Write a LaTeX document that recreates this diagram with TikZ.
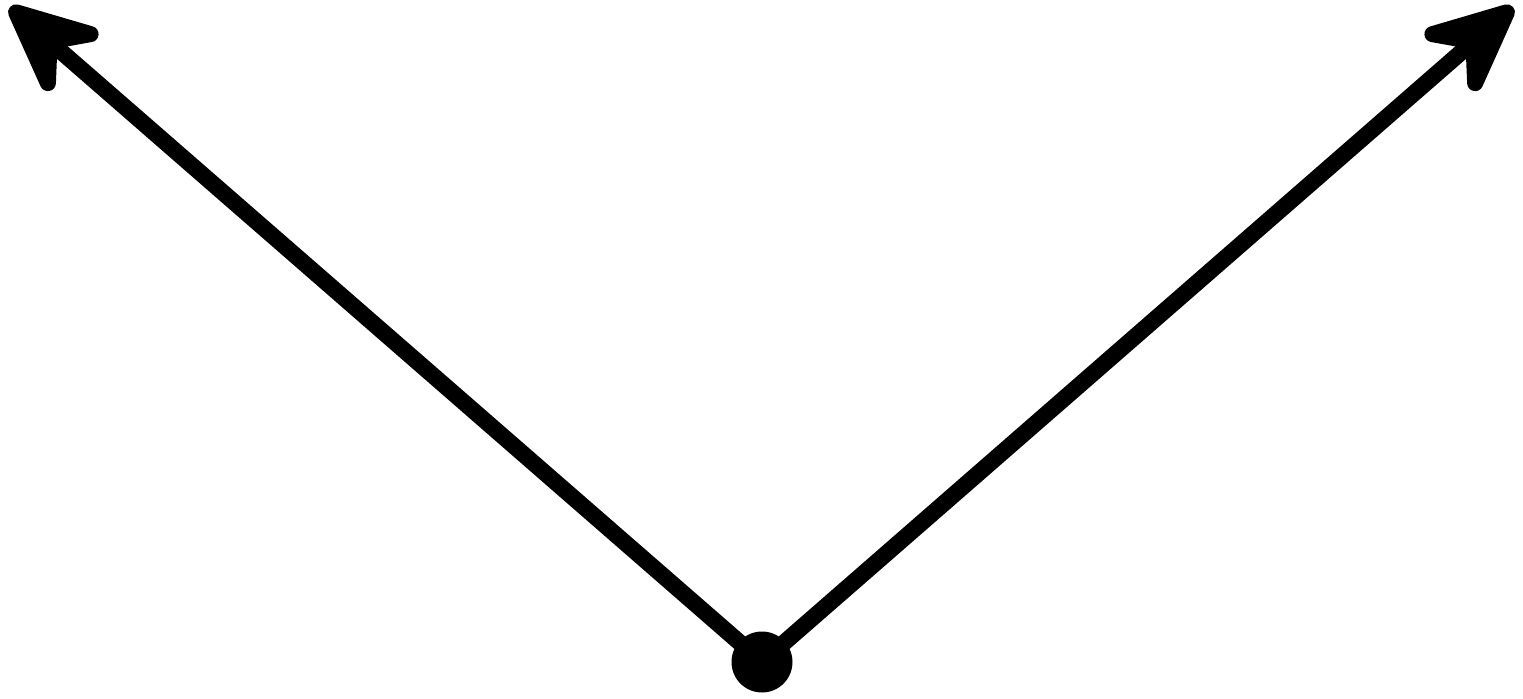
\documentclass[tikz,border=0pt]{standalone}
\usetikzlibrary{arrows.meta}

\begin{document}
\begin{tikzpicture}[
  vec/.style={-{Stealth[round, length=1.16cm, width=1.06cm, inset=0.42cm, line width=0.16cm]}, line width=0.165cm},
  dot/.style={circle, fill, inner sep=0pt, minimum size=0.61cm}
]
\useasboundingbox (0,0) rectangle (15.23,6.98);

\node[dot] (origin) at (7.62,0.36) {};
\coordinate (tipL) at (0.10,6.91);
\coordinate (tipR) at (15.13,6.91);

\draw[vec] (origin.center) -- (tipL);
\draw[vec] (origin.center) -- (tipR);

\end{tikzpicture}
\end{document}
